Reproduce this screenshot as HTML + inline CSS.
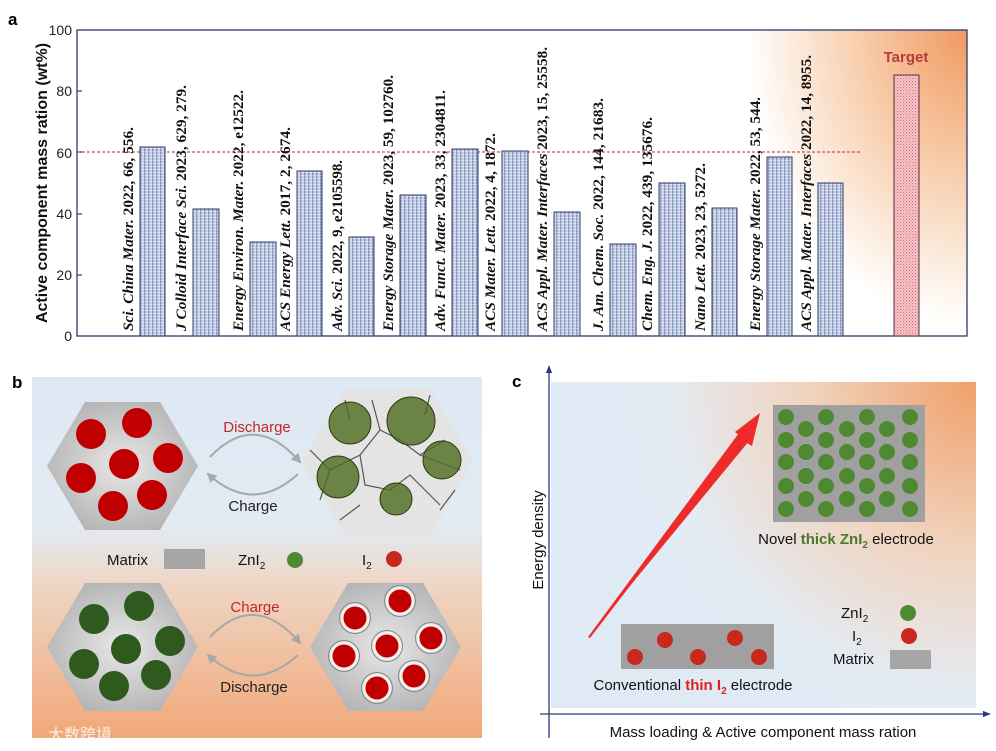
<!DOCTYPE html>
<html><head><meta charset="utf-8"><style>body{margin:0;background:#fff}svg{display:block}</style></head><body>
<svg width="996" height="751" viewBox="0 0 996 751" xmlns="http://www.w3.org/2000/svg" font-family="Liberation Sans, sans-serif">
<defs>
<radialGradient id="ga" cx="967" cy="30" r="420" gradientUnits="userSpaceOnUse" gradientTransform="translate(967 30) scale(0.75 1) translate(-967 -30)">
<stop offset="0" stop-color="#f09a60"/><stop offset="0.35" stop-color="#f8cfae"/><stop offset="0.7" stop-color="#fff"/></radialGradient>
<linearGradient id="gb" x1="0" y1="0" x2="0" y2="1">
<stop offset="0" stop-color="#dde9f5"/><stop offset="0.42" stop-color="#e3eaf2"/><stop offset="0.58" stop-color="#efd5c4"/><stop offset="1" stop-color="#f0a878"/></linearGradient>
<radialGradient id="gc" cx="976" cy="382" r="420" gradientUnits="userSpaceOnUse">
<stop offset="0" stop-color="#f0a06a"/><stop offset="0.4" stop-color="#f1d3be"/><stop offset="0.75" stop-color="#e3ecf5"/><stop offset="1" stop-color="#dfeaf5"/></radialGradient>
<radialGradient id="hex" cx="0.5" cy="0.5" r="0.55"><stop offset="0" stop-color="#e8e8e8"/><stop offset="1" stop-color="#b4b4b4"/></radialGradient>
<pattern id="pb" width="4" height="3" patternUnits="userSpaceOnUse"><rect width="4" height="3" fill="#c9d2e6"/><rect width="1.4" height="3" fill="#7d8fba"/><rect y="1" width="4" height="0.8" fill="#e6ebf5" opacity="0.6"/></pattern>
<pattern id="pr" width="3" height="3" patternUnits="userSpaceOnUse"><rect width="3" height="3" fill="#f6c4c8"/><rect width="1" height="1" fill="#d8707a"/><rect x="1.5" y="1.5" width="1" height="1" fill="#e08890"/></pattern>
<marker id="ah" viewBox="0 0 10 10" refX="8" refY="5" markerWidth="5" markerHeight="5" orient="auto"><path d="M0,0 L10,5 L0,10 z" fill="#a8a8a8"/></marker>
<marker id="ax" viewBox="0 0 10 10" refX="9" refY="5" markerWidth="6" markerHeight="6" orient="auto"><path d="M0,1 L10,5 L0,9 z" fill="#2b3a7a"/></marker>
</defs>

<!-- panel a -->
<text x="8" y="25" font-size="17" font-weight="bold">a</text>
<rect x="77" y="30" width="890" height="306" fill="url(#ga)"/>
<rect x="77" y="30" width="890" height="306" fill="none" stroke="#2b3a6e" stroke-width="1.3"/>
<g font-size="14" text-anchor="end" fill="#222">
<text x="72" y="35">100</text><text x="72" y="96">80</text><text x="72" y="158">60</text><text x="72" y="219">40</text><text x="72" y="280">20</text><text x="72" y="341">0</text></g>
<g stroke="#2b3a6e" stroke-width="1.2"><line x1="77" y1="91" x2="82" y2="91"/><line x1="77" y1="152" x2="82" y2="152"/><line x1="77" y1="214" x2="82" y2="214"/><line x1="77" y1="275" x2="82" y2="275"/></g>
<text transform="translate(47,183) rotate(-90)" text-anchor="middle" font-size="16" font-weight="bold" fill="#111">Active component mass ration (wt%)</text>
<line x1="77" y1="152" x2="860" y2="152" stroke="#b03030" stroke-dasharray="3,2" stroke-width="1"/>
<g stroke="#2f3d66" stroke-width="1" fill="url(#pb)">
<rect x="140" y="147" width="25" height="189"/><rect x="193" y="209" width="26" height="127"/><rect x="250" y="242" width="26" height="94"/><rect x="297" y="171" width="25" height="165"/><rect x="349" y="237" width="25" height="99"/><rect x="400" y="195" width="26" height="141"/><rect x="452" y="149" width="26" height="187"/><rect x="502" y="151" width="26" height="185"/><rect x="554" y="212" width="26" height="124"/><rect x="610" y="244" width="26" height="92"/><rect x="659" y="183" width="26" height="153"/><rect x="712" y="208" width="25" height="128"/><rect x="767" y="157" width="25" height="179"/><rect x="818" y="183" width="25" height="153"/></g>
<rect x="894" y="75" width="25" height="261" fill="url(#pr)" stroke="#5a3040" stroke-width="1"/>
<text x="906" y="62" text-anchor="middle" font-size="15" font-weight="bold" fill="#b83a3a">Target</text>
<g font-family="Liberation Serif, serif" font-size="14.5" font-weight="bold" fill="#111" lengthAdjust="spacingAndGlyphs">
<text transform="translate(133,331) rotate(-90)" textLength="204" lengthAdjust="spacingAndGlyphs"><tspan font-style="italic">Sci. China Mater.</tspan> 2022, 66, 556.</text>
<text transform="translate(186,331) rotate(-90)" textLength="246" lengthAdjust="spacingAndGlyphs"><tspan font-style="italic">J Colloid Interface Sci.</tspan> 2023, 629, 279.</text>
<text transform="translate(243,331) rotate(-90)" textLength="241" lengthAdjust="spacingAndGlyphs"><tspan font-style="italic">Energy Environ. Mater.</tspan> 2022, e12522.</text>
<text transform="translate(290,331) rotate(-90)" textLength="204" lengthAdjust="spacingAndGlyphs"><tspan font-style="italic">ACS Energy Lett.</tspan> 2017, 2, 2674.</text>
<text transform="translate(342,331) rotate(-90)" textLength="171" lengthAdjust="spacingAndGlyphs"><tspan font-style="italic">Adv. Sci.</tspan> 2022, 9, e2105598.</text>
<text transform="translate(393,331) rotate(-90)" textLength="256" lengthAdjust="spacingAndGlyphs"><tspan font-style="italic">Energy Storage Mater.</tspan> 2023, 59, 102760.</text>
<text transform="translate(445,331) rotate(-90)" textLength="241" lengthAdjust="spacingAndGlyphs"><tspan font-style="italic">Adv. Funct. Mater.</tspan> 2023, 33, 2304811.</text>
<text transform="translate(495,331) rotate(-90)" textLength="198" lengthAdjust="spacingAndGlyphs"><tspan font-style="italic">ACS Mater. Lett.</tspan> 2022, 4, 1872.</text>
<text transform="translate(547,331) rotate(-90)" textLength="284" lengthAdjust="spacingAndGlyphs"><tspan font-style="italic">ACS Appl. Mater. Interfaces</tspan> 2023, 15, 25558.</text>
<text transform="translate(603,331) rotate(-90)" textLength="233" lengthAdjust="spacingAndGlyphs"><tspan font-style="italic">J. Am. Chem. Soc.</tspan> 2022, 144, 21683.</text>
<text transform="translate(652,331) rotate(-90)" textLength="214" lengthAdjust="spacingAndGlyphs"><tspan font-style="italic">Chem. Eng. J.</tspan> 2022, 439, 135676.</text>
<text transform="translate(705,331) rotate(-90)" textLength="168" lengthAdjust="spacingAndGlyphs"><tspan font-style="italic">Nano Lett.</tspan> 2023, 23, 5272.</text>
<text transform="translate(760,331) rotate(-90)" textLength="234" lengthAdjust="spacingAndGlyphs"><tspan font-style="italic">Energy Storage Mater.</tspan> 2022, 53, 544.</text>
<text transform="translate(811,331) rotate(-90)" textLength="276" lengthAdjust="spacingAndGlyphs"><tspan font-style="italic">ACS Appl. Mater. Interfaces</tspan> 2022, 14, 8955.</text>
</g>

<!-- panel b -->
<text x="12" y="388" font-size="17" font-weight="bold">b</text>
<rect x="32" y="377" width="450" height="361" fill="url(#gb)"/>
<polygon points="47,466 85,402 160,402 198,466 160,530 85,530" fill="url(#hex)"/>
<g fill="#c00000"><circle cx="91" cy="434" r="15"/><circle cx="137" cy="423" r="15"/><circle cx="168" cy="458" r="15"/><circle cx="124" cy="464" r="15"/><circle cx="81" cy="478" r="15"/><circle cx="152" cy="495" r="15"/><circle cx="113" cy="506" r="15"/></g>
<polygon points="302,462 345,388 430,388 473,462 430,535 345,535" fill="#e4e4e4"/>
<g stroke="#555" stroke-width="1.2" fill="none">
<path d="M330,470 L360,455 L380,430 L400,440 L420,455 L445,440"/><path d="M360,455 L365,485 L390,490 L410,475 L440,505"/><path d="M380,430 L372,400"/><path d="M420,455 L460,470"/><path d="M310,450 L330,470 L320,500"/><path d="M345,400 L350,420 M430,395 L425,415 M455,490 L440,510 M340,520 L360,505"/></g>
<g fill="#4d6a1e" fill-opacity="0.8" stroke="#2a3a10" stroke-width="1"><circle cx="350" cy="423" r="21"/><circle cx="411" cy="421" r="24"/><circle cx="442" cy="460" r="19"/><circle cx="338" cy="477" r="21"/><circle cx="396" cy="499" r="16"/></g>
<polygon points="47,647 85,583 160,583 198,647 160,711 85,711" fill="url(#hex)"/>
<g fill="#2e5a1e"><circle cx="94" cy="619" r="15"/><circle cx="139" cy="606" r="15"/><circle cx="170" cy="641" r="15"/><circle cx="126" cy="649" r="15"/><circle cx="84" cy="664" r="15"/><circle cx="156" cy="675" r="15"/><circle cx="114" cy="686" r="15"/></g>
<polygon points="310,647 348,583 423,583 461,647 423,711 348,711" fill="url(#hex)"/>
<g fill="#c00000" stroke="#f0f0f0" stroke-width="3"><circle cx="355" cy="618" r="13"/><circle cx="400" cy="601" r="13"/><circle cx="387" cy="646" r="13"/><circle cx="431" cy="638" r="13"/><circle cx="344" cy="656" r="13"/><circle cx="414" cy="676" r="13"/><circle cx="377" cy="688" r="13"/></g>
<g fill="none" stroke="#888" stroke-width="1"><circle cx="355" cy="618" r="15.5"/><circle cx="400" cy="601" r="15.5"/><circle cx="387" cy="646" r="15.5"/><circle cx="431" cy="638" r="15.5"/><circle cx="344" cy="656" r="15.5"/><circle cx="414" cy="676" r="15.5"/><circle cx="377" cy="688" r="15.5"/></g>
<g fill="none" stroke="#a8a8a8" stroke-width="2">
<path d="M210,457 Q255,410 300,462" marker-end="url(#ah)"/><path d="M298,474 Q253,515 208,474" marker-end="url(#ah)"/>
<path d="M210,637 Q255,590 300,643" marker-end="url(#ah)"/><path d="M298,655 Q253,696 208,655" marker-end="url(#ah)"/></g>
<g font-size="15" text-anchor="middle"><text x="257" y="432" fill="#c0282d">Discharge</text><text x="253" y="511" fill="#222">Charge</text>
<text x="255" y="612" fill="#c0282d">Charge</text><text x="254" y="692" fill="#222">Discharge</text></g>
<g font-size="15" fill="#111"><text x="107" y="565">Matrix</text><text x="238" y="565">ZnI<tspan font-size="10" dy="4">2</tspan></text><text x="362" y="565">I<tspan font-size="10" dy="4">2</tspan></text></g>
<rect x="164" y="549" width="41" height="20" fill="#a6a6a6"/><circle cx="295" cy="560" r="8" fill="#4f8a32"/><circle cx="394" cy="559" r="8" fill="#c8281e"/>
<text x="48" y="740" font-size="16" font-family="Noto Sans CJK SC, sans-serif" fill="#fff" opacity="0.8">大数跨境</text>

<!-- panel c -->
<text x="512" y="387" font-size="17" font-weight="bold">c</text>
<rect x="551" y="382" width="425" height="326" fill="url(#gc)"/>
<line x1="549" y1="738" x2="549" y2="366" stroke="#2b3a7a" stroke-width="1.3" marker-end="url(#ax)"/>
<line x1="540" y1="714" x2="990" y2="714" stroke="#2b3a7a" stroke-width="1.3" marker-end="url(#ax)"/>
<text transform="translate(543,540) rotate(-90)" text-anchor="middle" font-size="15" fill="#111">Energy density</text>
<text x="763" y="737" text-anchor="middle" font-size="15" fill="#111">Mass loading &amp; Active component mass ration</text>
<rect x="773" y="405" width="152" height="117" fill="#a0a0a0"/>
<g fill="#4f8a32">
<circle cx="786" cy="417" r="8"/><circle cx="786" cy="440" r="8"/><circle cx="786" cy="462" r="8"/><circle cx="786" cy="486" r="8"/><circle cx="786" cy="509" r="8"/>
<circle cx="826" cy="417" r="8"/><circle cx="826" cy="440" r="8"/><circle cx="826" cy="462" r="8"/><circle cx="826" cy="486" r="8"/><circle cx="826" cy="509" r="8"/>
<circle cx="867" cy="417" r="8"/><circle cx="867" cy="440" r="8"/><circle cx="867" cy="462" r="8"/><circle cx="867" cy="486" r="8"/><circle cx="867" cy="509" r="8"/>
<circle cx="910" cy="417" r="8"/><circle cx="910" cy="440" r="8"/><circle cx="910" cy="462" r="8"/><circle cx="910" cy="486" r="8"/><circle cx="910" cy="509" r="8"/>
<circle cx="806" cy="429" r="8"/><circle cx="806" cy="452" r="8"/><circle cx="806" cy="476" r="8"/><circle cx="806" cy="499" r="8"/>
<circle cx="847" cy="429" r="8"/><circle cx="847" cy="452" r="8"/><circle cx="847" cy="476" r="8"/><circle cx="847" cy="499" r="8"/>
<circle cx="887" cy="429" r="8"/><circle cx="887" cy="452" r="8"/><circle cx="887" cy="476" r="8"/><circle cx="887" cy="499" r="8"/></g>
<text x="846" y="544" text-anchor="middle" font-size="15" fill="#111">Novel <tspan font-weight="bold" fill="#4a7a2a">thick ZnI<tspan font-size="10" dy="4">2</tspan></tspan><tspan dy="-4"> electrode</tspan></text>
<rect x="621" y="624" width="153" height="45" fill="#a0a0a0"/>
<g fill="#c8281e"><circle cx="635" cy="657" r="8"/><circle cx="665" cy="640" r="8"/><circle cx="698" cy="657" r="8"/><circle cx="735" cy="638" r="8"/><circle cx="759" cy="657" r="8"/></g>
<text x="693" y="690" text-anchor="middle" font-size="15" fill="#111">Conventional <tspan font-weight="bold" fill="#e02020">thin I<tspan font-size="10" dy="4">2</tspan></tspan><tspan dy="-4"> electrode</tspan></text>
<polygon points="588,637 745,440 735,432 760,413 752,446 742,440 590,638" fill="#ee2a2a"/>
<polygon points="588,637 739,433 749,441" fill="#ee2a2a"/>
<g font-size="15" fill="#111"><text x="841" y="618">ZnI<tspan font-size="10" dy="4">2</tspan></text><text x="852" y="641">I<tspan font-size="10" dy="4">2</tspan></text><text x="833" y="664">Matrix</text></g>
<circle cx="908" cy="613" r="8" fill="#4f8a32"/><circle cx="909" cy="636" r="8" fill="#c8281e"/><rect x="890" y="650" width="41" height="19" fill="#a6a6a6"/>
</svg>
</body></html>
